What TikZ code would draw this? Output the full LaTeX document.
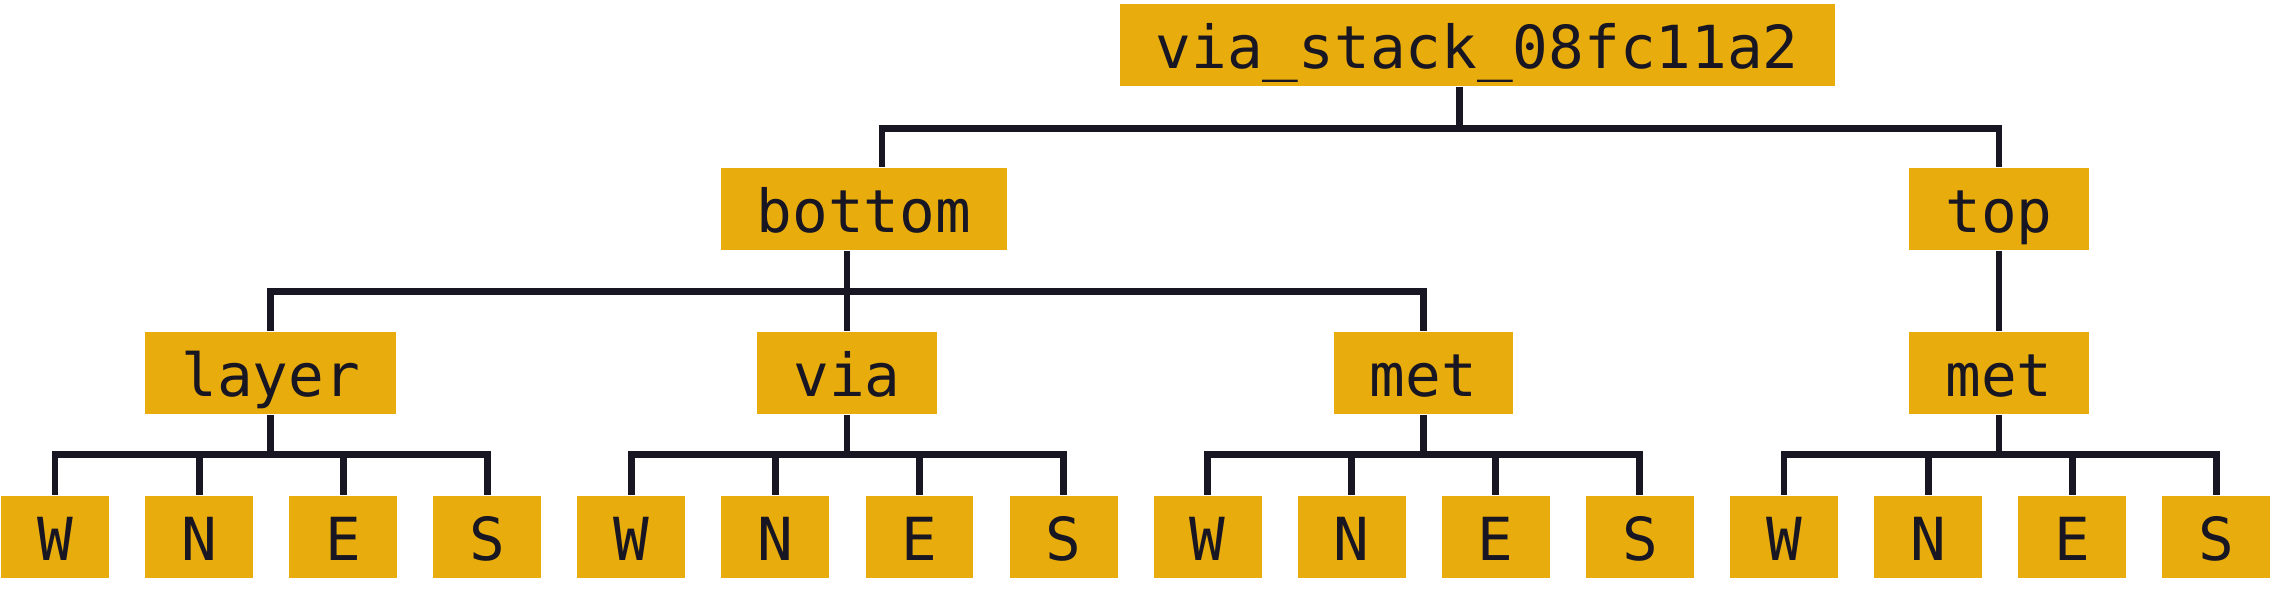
\documentclass[tikz,border=0pt]{standalone}
\usepackage{fontspec}
\usepackage{xcolor}
\newfontfamily\treefont{DejaVu Sans Mono}
\definecolor{boxfill}{HTML}{E8AD0C}
\definecolor{ink}{HTML}{181622}

\begin{document}
\begin{tikzpicture}[
	box/.style={fill=boxfill, text=ink, inner xsep=0.248cm, inner ysep=0pt,
		text height=0.442cm, text depth=0.122cm,
		font=\treefont\fontsize{11.6pt}{13pt}\selectfont},
	link/.style={draw=ink, line width=1.35pt}]
\useasboundingbox (0,0) rectangle (15.68,-4.05);
\node[box] (root) at (10.15,-0.31) {via\_stack\_08fc11a2};
\node[box] (bottom) at (5.935,-1.436) {bottom};
\node[box] (top) at (13.735,-1.436) {top};
\node[box] (layer) at (1.86,-2.562) {layer};
\node[box] (via) at (5.82,-2.562) {via};
\node[box] (met1) at (9.78,-2.562) {met};
\node[box] (met2) at (13.735,-2.562) {met};
\foreach \lab [count=\i from 0] in {W,N,E,S,W,N,E,S,W,N,E,S,W,N,E,S}
	{\node[box] (leaf\i) at ({0.378+0.99*\i},-3.688) {\lab};}
\coordinate (rootstem) at (10.03,-0.88);
\coordinate (bottomin) at (6.06,-0.88);
\coordinate (bus2) at (5.82,-2.003);
\coordinate (bus3) at (0,-3.12);
\draw[link] (rootstem |- root.south) -- (rootstem);
\draw[link] (bottomin |- bottom.north) |- (rootstem) -| (top.north);
\draw[link] (bus2 |- bottom.south) -- (bus2);
\draw[link] (layer.north) |- (bus2) -| (met1.north);
\draw[link] (bus2) -- (via.north);
\draw[link] (top.south) -- (met2.north);
\foreach \p [count=\k from 0] in {layer,via,met1,met2} {
	\pgfmathtruncatemacro\first{4*\k}
	\pgfmathtruncatemacro\last{4*\k+3}
	\draw[link] (\p.south) -- (\p.south |- bus3);
	\draw[link] (leaf\first.north) |- (\p.south |- bus3) -| (leaf\last.north);
	\foreach \j in {1,2} {
		\pgfmathtruncatemacro\mid{4*\k+\j}
		\draw[link] (leaf\mid.north) -- (leaf\mid.north |- bus3);
	}
}
\end{tikzpicture}
\end{document}
